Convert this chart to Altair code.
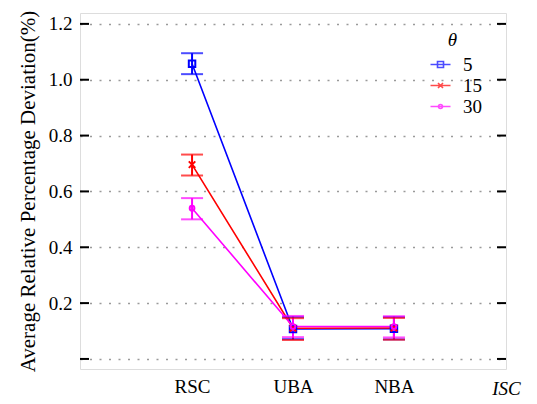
import altair as alt
import pandas as pd

# ---- data ----
categories = ["RSC", "UBA", "NBA"]
thetas = ["5", "15", "30"]
colors = ["#0000ff", "#ff0000", "#ff00ff"]

mean_5 = [1.057, 0.107, 0.108]
lo_5 = [1.020, 0.071, 0.070]
hi_5 = [1.095, 0.150, 0.150]

mean_15 = [0.696, 0.110, 0.111]
lo_15 = [0.657, 0.068, 0.069]
hi_15 = [0.732, 0.146, 0.147]

mean_30 = [0.540, 0.116, 0.116]
lo_30 = [0.500, 0.078, 0.077]
hi_30 = [0.576, 0.154, 0.153]

y_ticks = [0.0, 0.2, 0.4, 0.6, 0.8, 1.0, 1.2]
x_end_label = "ISC"

marker_paths = [
    "M-1,-1H1V1H-1Z",
    "M-1,-1L1,1M-1,1L1,-1",
    "M-1,0A1,1,0,1,0,1,0A1,1,0,1,0,-1,0Z",
]
marker_sizes = [42, 42, 22]
legend_paths = [
    "M-2,0H2M-0.6,-0.6H0.6V0.6H-0.6Z",
    "M-2,0H2M-0.5,-0.5L0.5,0.5M-0.5,0.5L0.5,-0.5",
    "M-2,0H2M-0.4,0A0.4,0.4,0,1,0,0.4,0A0.4,0.4,0,1,0,-0.4,0Z",
]

rows = []
for t, c, mp, ms, means, los, his in [
    (thetas[0], colors[0], marker_paths[0], marker_sizes[0], mean_5, lo_5, hi_5),
    (thetas[1], colors[1], marker_paths[1], marker_sizes[1], mean_15, lo_15, hi_15),
    (thetas[2], colors[2], marker_paths[2], marker_sizes[2], mean_30, lo_30, hi_30),
]:
    for i, cat in enumerate(categories):
        rows.append(dict(theta=t, col=c, shp=mp, msz=ms, cat=cat, xi=i + 1,
                         mean=means[i], lo=los[i], hi=his[i]))
df = pd.DataFrame(rows)
tick_df = pd.DataFrame({"v": y_ticks})

W, H = 426, 356
FONT = "Times New Roman, Liberation Serif, DejaVu Serif, serif"

xscale = alt.Scale(domain=[-0.11, 4.11], nice=False, zero=False)
yscale = alt.Scale(domain=[-0.036, 1.239], nice=False, zero=False)

label_expr = "[" + ",".join("'%s'" % c for c in categories) + "][datum.value - 1]"

x_axis = alt.Axis(values=[1, 2, 3], labelExpr=label_expr, ticks=False, grid=False,
                  domain=False, labelFont=FONT, labelFontSize=19, labelPadding=8,
                  labelColor="black", title=x_end_label, titleFont=FONT,
                  titleFontSize=19, titleFontStyle="italic", titleFontWeight="normal",
                  titleX=W, titleY=25, titleAlign="center", titleBaseline="alphabetic",
                  titleColor="black")
y_axis = alt.Axis(values=y_ticks, labelExpr="datum.value == 0 ? '' : format(datum.value, '.1f')",
                  ticks=False, domain=False, grid=True, gridDash=[2, 7.5], gridColor="#9a9a9a",
                  gridWidth=1.5, labelFont=FONT, labelFontSize=19, labelPadding=8,
                  labelColor="black",
                  title="Average Relative Percentage Deviation(%)", titleFont=FONT,
                  titleFontSize=21, titleFontWeight="normal", titlePadding=10,
                  titleColor="black")

base = alt.Chart(df)
X = alt.X("xi:Q", scale=xscale, axis=x_axis)
Y = alt.Y("mean:Q", scale=yscale, axis=y_axis)
C = alt.Color("col:N", scale=None)

lines = base.mark_line(strokeWidth=1.6).encode(x=X, y=Y, color=C, detail="theta:N")
bars = base.mark_rule(strokeWidth=2).encode(
    x=alt.X("xi:Q", scale=xscale), y=alt.Y("lo:Q", scale=yscale), y2="hi:Q", color=C)
cap_lo = base.mark_tick(orient="horizontal", size=22, thickness=2).encode(
    x=alt.X("xi:Q", scale=xscale), y=alt.Y("lo:Q", scale=yscale), color=C)
cap_hi = base.mark_tick(orient="horizontal", size=22, thickness=2).encode(
    x=alt.X("xi:Q", scale=xscale), y=alt.Y("hi:Q", scale=yscale), color=C)
marks = base.mark_point(filled=False, strokeWidth=2, opacity=1).encode(
    x=alt.X("xi:Q", scale=xscale), y=alt.Y("mean:Q", scale=yscale),
    color=alt.Color("col:N", scale=None),
    shape=alt.Shape("shp:N", scale=None),
    size=alt.Size("msz:Q", scale=None))

legend_layer = base.mark_point(filled=False, strokeWidth=1.6, size=156, opacity=1).encode(
    x=alt.X("xi:Q", scale=xscale), y=alt.Y("mean:Q", scale=yscale),
    color=alt.Color("theta:N", scale=alt.Scale(domain=thetas, range=colors),
                    legend=alt.Legend(title="θ", orient="none", legendX=351, legendY=18,
                                      titleFont=FONT, titleFontSize=19, titleFontStyle="italic",
                                      titleFontWeight="normal", titleAnchor="middle",
                                      titleAlign="right", titlePadding=5,
                                      labelFont=FONT, labelFontSize=19, labelOffset=13,
                                      symbolStrokeWidth=1.6, rowPadding=1, padding=0,
                                      titleColor="black", labelColor="black")),
    shape=alt.Shape("theta:N", scale=alt.Scale(domain=thetas, range=legend_paths)),
).transform_filter("false")

left_ticks = alt.Chart(tick_df).mark_rule(color="black", strokeWidth=2).encode(
    y=alt.Y("v:Q", scale=yscale), x=alt.value(0), x2=alt.value(9))
right_ticks = alt.Chart(tick_df).mark_rule(color="black", strokeWidth=2).encode(
    y=alt.Y("v:Q", scale=yscale), x=alt.value(W - 9), x2=alt.value(W))

chart = alt.layer(lines, bars, cap_lo, cap_hi, marks, left_ticks, right_ticks, legend_layer).properties(
    width=W, height=H,
    autosize=alt.AutoSizeParams(type="none"),
    padding={"left": 72, "top": 5, "right": 22, "bottom": 34},
).configure_view(stroke="black", strokeWidth=2).configure(background="white", font=FONT)

chart.save("out.html", embed_options={"renderer": "svg", "actions": False})
